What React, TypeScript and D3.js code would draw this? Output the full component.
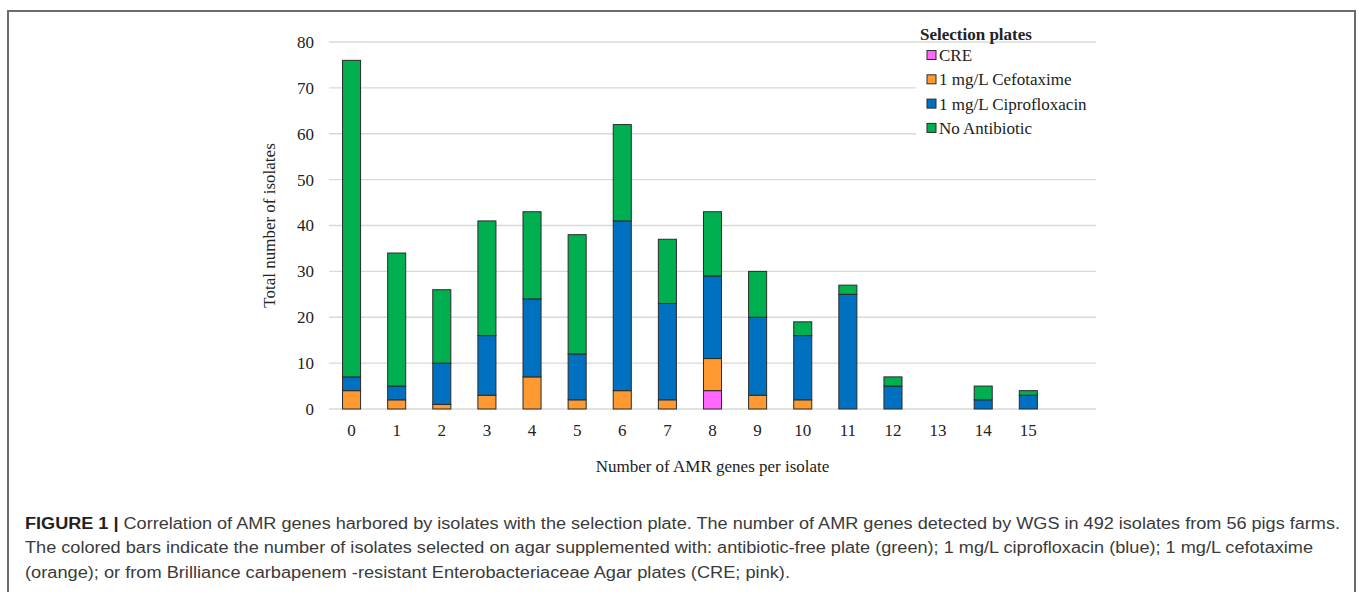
import React, { useEffect, useRef } from "react";
import * as d3 from "d3";

// Number of AMR genes per isolate (x categories)
const genes = ["0", "1", "2", "3", "4", "5", "6", "7", "8", "9", "10", "11", "12", "13", "14", "15"];

// Isolates per selection plate, stacked bottom -> top
const cre = [0, 0, 0, 0, 0, 0, 0, 0, 4, 0, 0, 0, 0, 0, 0, 0];
const cefotaxime = [4, 2, 1, 3, 7, 2, 4, 2, 7, 3, 2, 0, 0, 0, 0, 0];
const ciprofloxacin = [3, 3, 9, 13, 17, 10, 37, 21, 18, 17, 14, 25, 5, 0, 2, 3];
const noAntibiotic = [69, 29, 16, 25, 19, 26, 21, 14, 14, 10, 3, 2, 2, 0, 3, 1];

const seriesKeys = ["cre", "cef", "cip", "none"];
const seriesLabels = ["CRE", "1 mg/L Cefotaxime", "1 mg/L Ciprofloxacin", "No Antibiotic"];
const seriesColors = ["#FF66FF", "#FF9A33", "#0070C0", "#00B050"];

const yTicks = [0, 10, 20, 30, 40, 50, 60, 70, 80];

const captionLines = [
  "Correlation of AMR genes harbored by isolates with the selection plate. The number of AMR genes detected by WGS in 492 isolates from 56 pigs farms.",
  "The colored bars indicate the number of isolates selected on agar supplemented with: antibiotic-free plate (green); 1 mg/L ciprofloxacin (blue); 1 mg/L cefotaxime",
  "(orange); or from Brilliance carbapenem -resistant Enterobacteriaceae Agar plates (CRE; pink).",
];

const W = 1360;
const H = 592;
const serif = "'Liberation Serif', 'Times New Roman', serif";
const sans = "'Liberation Sans', Arial, sans-serif";

export default function App() {
  const ref = useRef<SVGSVGElement>(null);

  useEffect(() => {
    const svg = d3.select(ref.current);
    svg.selectAll("*").remove();

    const left = 329;
    const right = 1096;
    const top = 42;
    const bottom = 409;

    // Excel left one empty slot after the last category
    const step = (right - left) / (genes.length + 1);
    const x = d3
      .scaleBand<string>()
      .domain(genes)
      .range([left, left + step * genes.length])
      .paddingInner(0.6)
      .paddingOuter(0.3);

    const y = d3.scaleLinear().domain([0, 80]).range([bottom, top]);

    // outer figure frame (bottom edge is off the page)
    svg
      .append("rect")
      .attr("x", 8)
      .attr("y", 11)
      .attr("width", 1347)
      .attr("height", 640)
      .attr("fill", "#fff")
      .attr("stroke", "#6b6b6b")
      .attr("stroke-width", 2);

    // gridlines
    svg
      .append("g")
      .selectAll("line")
      .data(yTicks)
      .join("line")
      .attr("x1", left)
      .attr("x2", right)
      .attr("y1", (d) => y(d))
      .attr("y2", (d) => y(d))
      .attr("stroke", "#D9D9D9")
      .attr("stroke-width", 1.4);

    // stacked bars
    const rows = genes.map((g, i) => ({
      gene: g,
      cre: cre[i],
      cef: cefotaxime[i],
      cip: ciprofloxacin[i],
      none: noAntibiotic[i],
    }));
    const stacked = d3.stack<any>().keys(seriesKeys)(rows);

    svg
      .append("g")
      .selectAll("g")
      .data(stacked)
      .join("g")
      .attr("fill", (_, i) => seriesColors[i])
      .selectAll("rect")
      .data((s) => s.filter((d) => d[1] - d[0] > 0))
      .join("rect")
      .attr("x", (d) => x(d.data.gene)!)
      .attr("width", x.bandwidth())
      .attr("y", (d) => y(d[1]))
      .attr("height", (d) => y(d[0]) - y(d[1]))
      .attr("stroke", "#2b2b2b")
      .attr("stroke-width", 1);

    // y-axis tick labels
    svg
      .append("g")
      .selectAll("text")
      .data(yTicks)
      .join("text")
      .attr("x", 314)
      .attr("y", (d) => y(d))
      .attr("dy", "0.35em")
      .attr("text-anchor", "end")
      .style("font-family", serif)
      .style("font-size", "17px")
      .attr("fill", "#222")
      .text((d) => d);

    // x-axis tick labels
    svg
      .append("g")
      .selectAll("text")
      .data(genes)
      .join("text")
      .attr("x", (d) => x(d)! + x.bandwidth() / 2)
      .attr("y", 430)
      .attr("dy", "0.35em")
      .attr("text-anchor", "middle")
      .style("font-family", serif)
      .style("font-size", "17px")
      .attr("fill", "#222")
      .text((d) => d);

    // axis titles
    svg
      .append("text")
      .attr("transform", `translate(269, ${(top + bottom) / 2}) rotate(-90)`)
      .attr("dy", "0.35em")
      .attr("text-anchor", "middle")
      .style("font-family", serif)
      .style("font-size", "17px")
      .attr("fill", "#222")
      .text("Total number of isolates");

    svg
      .append("text")
      .attr("x", (left + right) / 2)
      .attr("y", 466)
      .attr("dy", "0.35em")
      .attr("text-anchor", "middle")
      .style("font-family", serif)
      .style("font-size", "17px")
      .attr("fill", "#222")
      .text("Number of AMR genes per isolate");

    // legend (white box hides gridlines behind it)
    const legend = svg.append("g");
    legend
      .append("rect")
      .attr("x", 916)
      .attr("y", 44)
      .attr("width", 182)
      .attr("height", 96)
      .attr("fill", "#fff");
    legend
      .append("text")
      .attr("x", 920)
      .attr("y", 34)
      .attr("dy", "0.35em")
      .style("font-family", serif)
      .style("font-size", "17px")
      .style("font-weight", "bold")
      .attr("fill", "#222")
      .text("Selection plates");

    const item = legend
      .selectAll("g.item")
      .data(seriesLabels)
      .join("g")
      .attr("class", "item")
      .attr("transform", (_, i) => `translate(927, ${55 + i * 24.3})`);
    item
      .append("rect")
      .attr("x", 0)
      .attr("y", -4.5)
      .attr("width", 9)
      .attr("height", 9)
      .attr("fill", (_, i) => seriesColors[i])
      .attr("stroke", "#2b2b2b")
      .attr("stroke-width", 1);
    item
      .append("text")
      .attr("x", 12)
      .attr("dy", "0.35em")
      .style("font-family", serif)
      .style("font-size", "17px")
      .attr("fill", "#222")
      .text((d) => d);

    // figure caption
    const cap = svg.append("g").style("font-family", sans).style("font-size", "16px");
    const capEnds = [1340, 1313, 790];
    captionLines.forEach((line, i) => {
      const t = cap
        .append("text")
        .attr("x", 25)
        .attr("y", 523 + i * 24.5)
        .attr("dy", "0.35em")
        .attr("fill", "#3a3a3a");
      if (i === 0) {
        t.append("tspan").style("font-weight", "bold").attr("fill", "#231f20").text("FIGURE 1 | ");
      }
      t.append("tspan").text(line);
      t.attr("textLength", capEnds[i] - 25).attr("lengthAdjust", "spacingAndGlyphs");
    });
  }, []);

  return (
    <svg
      ref={ref}
      width={W}
      height={H}
      style={{ position: "absolute", left: 0, top: 0, display: "block", background: "#fff" }}
    />
  );
}
